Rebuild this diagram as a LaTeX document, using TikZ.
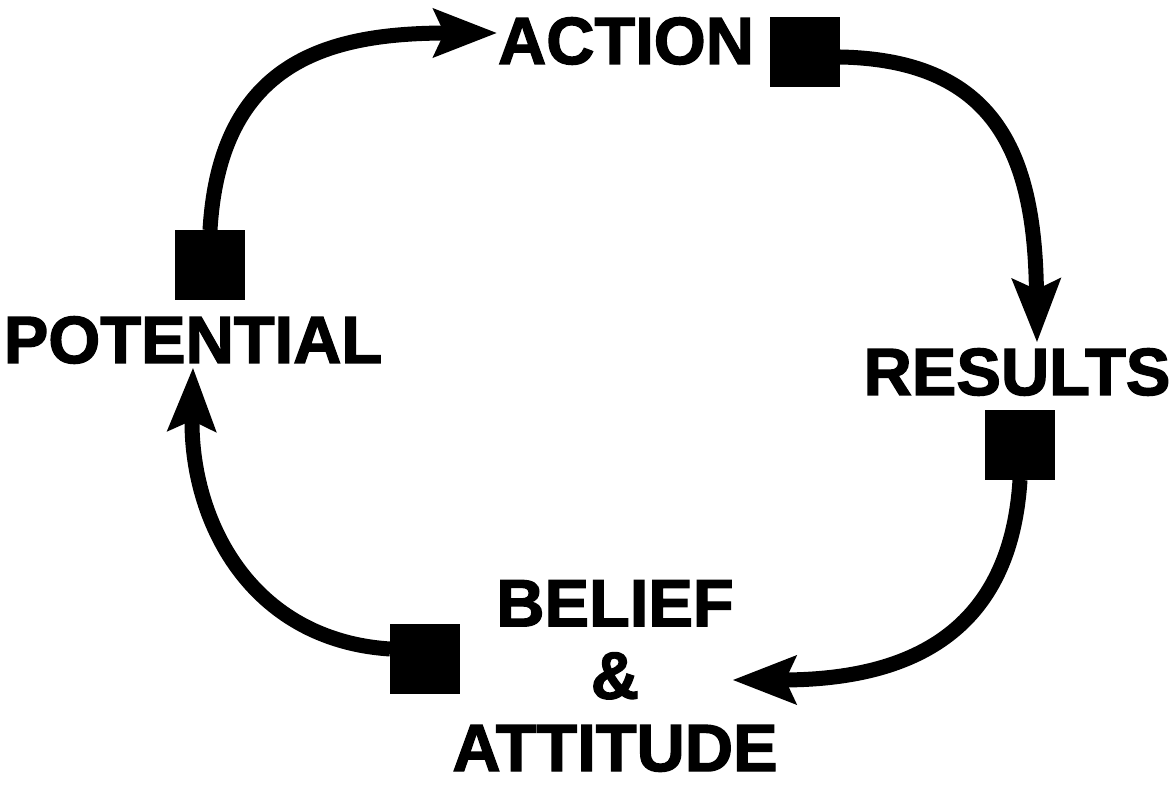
\documentclass[tikz,border=0pt]{standalone}
\usepackage{fontspec}
\setmainfont{Liberation Sans}[BoldFeatures={FakeBold=2}]
\usetikzlibrary{arrows.meta, positioning}

\begin{document}
\begin{tikzpicture}[
      stage/.style={inner sep=0pt, align=center, font=\bfseries\fontsize{19}{20.6}\selectfont},
      marker/.style={rectangle, draw, thick, fill=black, inner sep=0pt, minimum size=0.67cm},
      flow/.style={-{Stealth[length=0.63cm, width=0.47cm, inset=0.1cm]}, line width=0.15cm}
    ]
    \useasboundingbox (0,0) rectangle (11.72,-7.86);

    \node[stage] (action) at (6.26,-0.41) {ACTION};
    \node[stage] (results) at (10.17,-3.72) {RESULTS};
    \node[stage] (belief) at (6.15,-6.76) {BELIEF\\\&\\ATTITUDE};
    \node[stage] (potential) at (1.93,-3.40) {POTENTIAL};

    \node[marker] (mA) at (8.05,-0.52) {};
    \node[marker] (mR) at (10.20,-4.45) {};
    \node[marker] (mB) at (4.25,-6.59) {};
    \node[marker] (mP) at (2.10,-2.65) {};

    % the cycle
    \draw[flow] (mP.north) .. controls (2.2,-0.6) and (3.3,-0.33) .. ([yshift=0.08cm]action.west);
    \draw[flow] ([yshift=-0.05cm]mA.east) .. controls (10.0,-0.6) and (10.35,-1.6) .. ([xshift=0.2cm, yshift=0.05cm]results.north);
    \draw[flow] (mR.south) .. controls (10.1,-6.4) and (9.0,-6.8) .. ([xshift=-0.46cm, yshift=-0.04cm]belief.east);
    \draw[flow] ([yshift=0.1cm]mB.west) .. controls (2.5,-6.4) and (1.9,-5.2) .. ([yshift=-0.03cm]potential.south);
  \end{tikzpicture}
\end{document}
